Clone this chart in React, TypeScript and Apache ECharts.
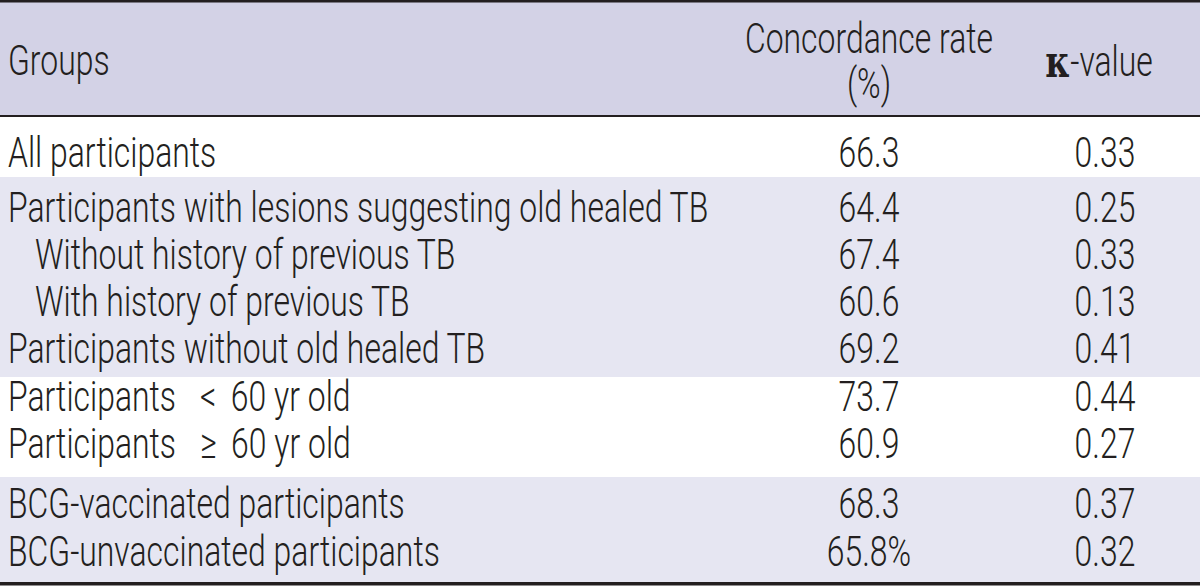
import React, { useEffect, useRef } from "react";
import * as echarts from "echarts";

const GROUPS = [
  "All participants",
  "Participants with lesions suggesting old healed TB",
  "Without history of previous TB",
  "With history of previous TB",
  "Participants without old healed TB",
  "Participants  < 60 yr old",
  "Participants  \u2265 60 yr old",
  "BCG-vaccinated participants",
  "BCG-unvaccinated participants",
];
const INDENT = [0, 0, 1, 1, 0, 0, 0, 0, 0];
const CONCORDANCE = ["66.3", "64.4", "67.4", "60.6", "69.2", "73.7", "60.9", "68.3", "65.8%"];
const KAPPA = ["0.33", "0.25", "0.33", "0.13", "0.41", "0.44", "0.27", "0.37", "0.32"];
const HEADERS = ["Groups", "Concordance rate\n(%)", "-value"];

// layout
const W = 1200;
const H = 588;
const FONT = "Roboto, 'DejaVu Sans Condensed', sans-serif";
const FW = 300;
const FS = 42;
const SX = 0.76;
const INK = "#231f20";
const HEAD_BG = "#d3d2e6";
const BAND_BG = "#e6e6f2";
const ROW_CY = [152, 207, 254, 301, 348, 396, 443, 503, 551];
const BANDS = [
  { y0: 117, y1: 177, bg: "#ffffff" },
  { y0: 177, y1: 377, bg: BAND_BG },
  { y0: 377, y1: 477, bg: "#ffffff" },
  { y0: 477, y1: 582, bg: BAND_BG },
];
const COL1_X = 8;
const INDENT_W = 27;
const COL2_CX = 869;
const COL3_CX = 1105;
const COL3_HEAD_CX = 1099;

function txt(x: number, y: number, text: string, align: string, extra: any = {}) {
  return {
    type: "text",
    x,
    y,
    scaleX: SX,
    style: {
      text,
      font: `${FW} ${FS}px ${FONT}`,
      fill: INK,
      textAlign: align,
      textVerticalAlign: "middle",
      ...extra,
    },
  };
}

// comparison signs get a little breathing room, as in the source typesetting
function groupLabel(x: number, y: number, g: string) {
  const m = g.match(/^(.*?)\s*([<\u2265])\s*(.*)$/);
  if (!m) return txt(x, y, g, "left");
  return {
    type: "text",
    x,
    y,
    scaleX: SX,
    style: {
      text: `{t|${m[1]}  }{s|${m[2]}}{t| ${m[3]}}`,
      textAlign: "left",
      textVerticalAlign: "middle",
      rich: {
        t: { font: `${FW} ${FS}px ${FONT}`, fill: INK },
        s: { font: `${FW} ${FS}px ${FONT}`, fill: INK, padding: [0, 9, 0, 11] },
      },
    },
  };
}

export default function App() {
  const ref = useRef<HTMLDivElement>(null);
  useEffect(() => {
    document.body.style.margin = "0";
    const chart = echarts.init(ref.current!, null, { renderer: "svg" });
    const els: any[] = [];
    els.push({ type: "rect", shape: { x: 0, y: 0, width: W, height: 116 }, style: { fill: HEAD_BG } });
    BANDS.forEach((b) =>
      els.push({ type: "rect", shape: { x: 0, y: b.y0, width: W, height: b.y1 - b.y0 }, style: { fill: b.bg } })
    );
    els.push({ type: "rect", shape: { x: 0, y: 0, width: W, height: 2.5 }, style: { fill: INK } });
    els.push({ type: "rect", shape: { x: 0, y: 115, width: W, height: 2 }, style: { fill: INK } });
    els.push({ type: "rect", shape: { x: 0, y: 582, width: W, height: 3.5 }, style: { fill: INK } });

    els.push(txt(COL1_X, 60, HEADERS[0], "left"));
    els.push(txt(COL2_CX, 61, HEADERS[1], "center", { lineHeight: 45 }));
    els.push({
      type: "text",
      x: COL3_HEAD_CX,
      y: 61,
      scaleX: SX,
      style: {
        text: "{k|\u03ba}{v|" + HEADERS[2] + "}",
        textAlign: "center",
        textVerticalAlign: "middle",
        rich: {
          k: { font: `bold 44px 'DejaVu Serif', serif`, fill: INK },
          v: { font: `${FW} ${FS}px ${FONT}`, fill: INK },
        },
      },
    });
    GROUPS.forEach((g, i) => {
      const cy = ROW_CY[i];
      els.push(groupLabel(COL1_X + INDENT[i] * INDENT_W, cy, g));
      els.push(txt(COL2_CX, cy, CONCORDANCE[i], "center"));
      els.push(txt(COL3_CX, cy, KAPPA[i], "center"));
    });
    chart.setOption({ animation: false, graphic: { elements: els } });
    return () => chart.dispose();
  }, []);
  return <div ref={ref} style={{ width: W, height: H }} />;
}
